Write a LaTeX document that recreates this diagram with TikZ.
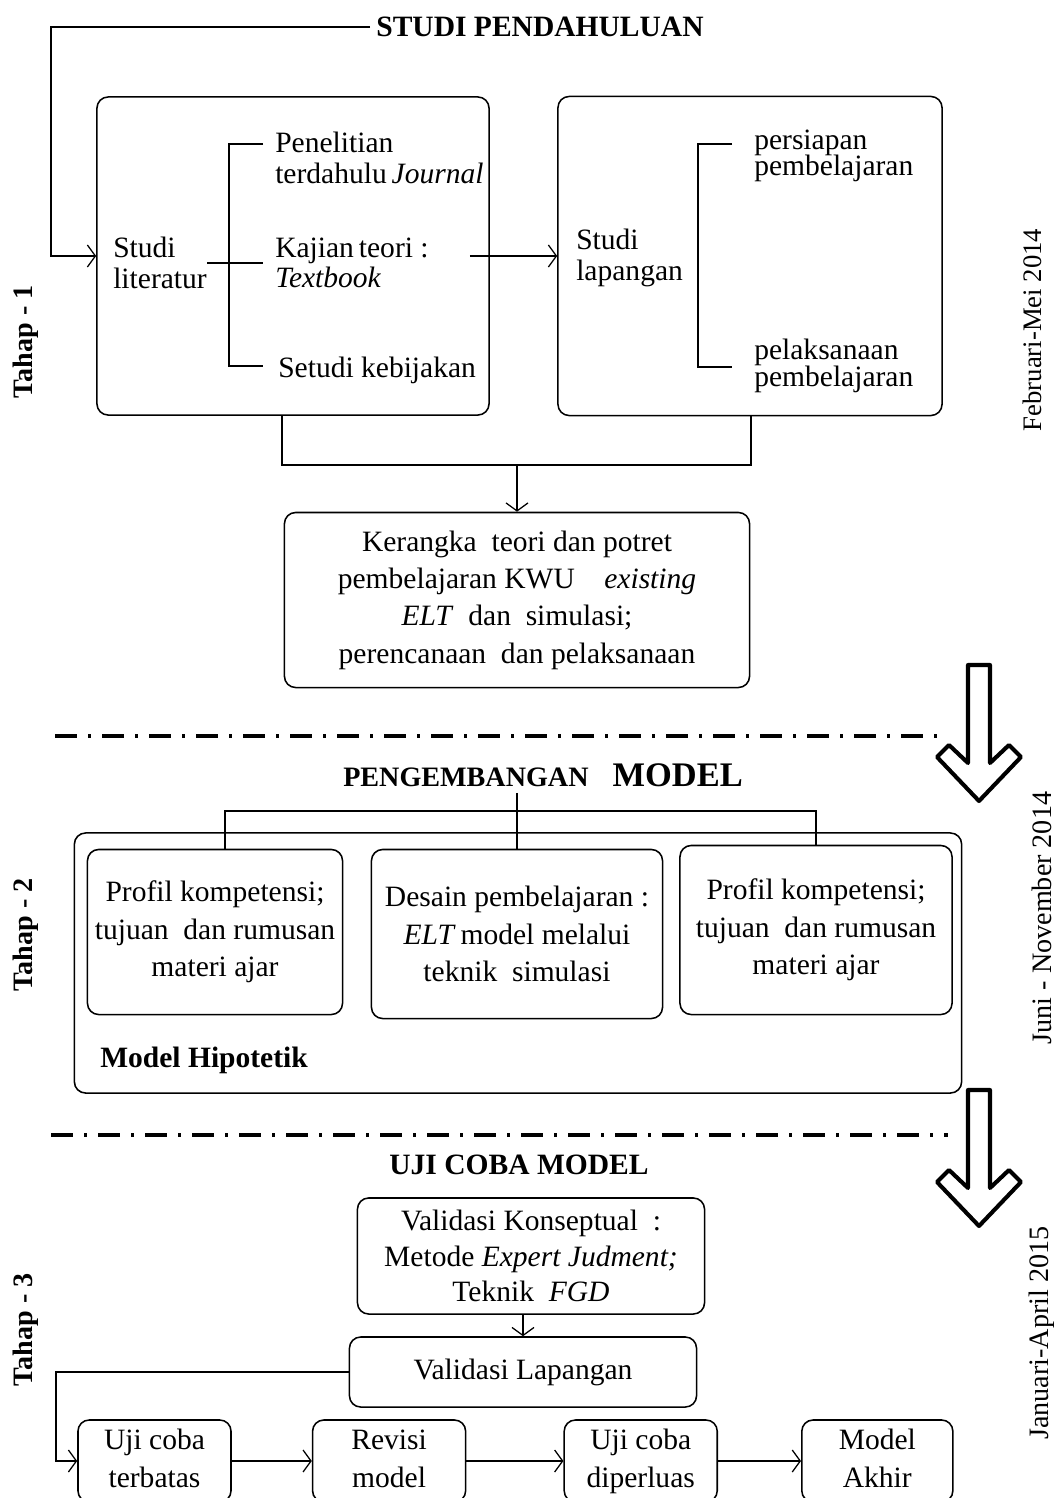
\documentclass[tikz,border=0pt]{standalone}
\usepackage{fontspec}
\setmainfont{Liberation Serif}
\usetikzlibrary{positioning, arrows.meta}

\begin{document}
\begin{tikzpicture}[
    x=0.025cm, y=-0.025cm,
    node distance=2cm,
    box/.style={draw, line width=1.1pt, rounded corners=0.28cm, align=center, inner sep=0pt,
        font=\fontsize{21}{26.5}\selectfont},
    ujibox/.style={box, minimum width=3.825cm, minimum height=2.05cm},
    lbl/.style={inner sep=0pt, anchor=west, align=left, font=\fontsize{21}{21.5}\selectfont},
    rapat/.style={font={\fontsize{21}{#1}\selectfont\setlength{\lineskiplimit}{-20pt}}},
    ttl/.style={inner sep=0.15cm, font=\bfseries\fontsize{21}{24}\selectfont},
    tahap/.style={rotate=90, inner sep=0pt, font=\bfseries\fontsize{20}{22}\selectfont},
    waktu/.style={rotate=90, inner sep=0pt, font=\fontsize{20}{22}\selectfont},
    garis/.style={line width=0.9pt},
    batas/.style={line width=2.9pt, dash pattern=on 0.55cm off 0.28cm on 0.075cm off 0.27cm},
    panah/.style={line width=2.9pt, line join=round},
    >={Straight Barb[length=0.2cm, width=0.55cm]}
]
\useasboundingbox (0,0) rectangle (1061,1498);
\clip (0,0) rectangle (1061,1498);

% --- Tahap 1: studi pendahuluan ---
\node[ttl] (t1) at (540,27) {STUDI PENDAHULUAN};
\node[box, minimum width=9.8cm, minimum height=7.95cm] (lit) at (293,256) {};
\node[box, minimum width=9.6cm, minimum height=7.975cm] (lap) at (750,256) {};
\coordinate (loop) at (51,27);
\draw[garis,->] (t1.west) -- (loop) |- (lit.west);

\node[lbl] (stlit) at (113,263) {Studi\\literatur};
\node[lbl] (pen) at (275,158) {Penelitian\\terdahulu\,\textit{Journal}};
\node[lbl] (kaj) at (275,263) {Kajian\,teori :\\\textit{Textbook}};
\node[lbl] (keb) at (278,370) {Setudi kebijakan};
\coordinate (b1t) at (263,144);
\coordinate (b1b) at (263,366);
\draw[garis] (b1t) -- ++(-34,0) |- (b1b);
\draw[garis] (stlit.east) -- (stlit.east -| b1t);
\draw[garis,->] ([xshift=-0.5cm]lit.east) -- (lap.west);

\node[lbl] (stlap) at (576,258) {Studi\\lapangan};
\node[lbl, rapat=19] (per) at (754,156) {persiapan\\pembelajaran};
\node[lbl, rapat=19] (pel) at (754,366) {pelaksanaan\\pembelajaran};
\coordinate (b2t) at (732,144);
\coordinate (b2b) at (732,367);
\draw[garis] (b2t) -- ++(-34,0) |- (b2b);

% gabungan ke kerangka teori
\node[box, minimum width=11.625cm, minimum height=4.375cm] (ker) at (517,600)
    {Kerangka\ \ teori dan potret\\pembelajaran KWU\quad\textit{existing}\\
     \textit{ELT}\ \ dan\ \ simulasi;\\perencanaan\ \ dan pelaksanaan};
\coordinate (j1) at (282,465);
\coordinate (j2) at (751,465);
\draw[garis] (lit.south -| j1) -- (j1) -- (j2) -- (lap.south -| j2);
\draw[garis,->] (ker.north |- j1) -- (ker.north);

% --- garis batas dan panah tahap ---
\draw[batas] (55,736) -- (948,736);
\draw[batas] (51,1135) -- (948,1135);
\foreach \dy in {0,425}
    \draw[panah, shift={(0,\dy)}] (968,665) -- (990,665) -- (990,763) -- (1009,745)
        -- (1021,757) -- (979,801) -- (937,757) -- (949,745) -- (968,763) -- cycle;

% --- Tahap 2: pengembangan model ---
\node[ttl] (t2) at (543,775) {\fontsize{20}{22}\selectfont PENGEMBANGAN\hspace{0.6cm}\fontsize{24.5}{26}\selectfont MODEL};
\node[box, minimum width=22.175cm, minimum height=6.5cm] (mh) at (518,963) {};
\node[lbl, font=\bfseries\fontsize{21}{24}\selectfont] (mhl) at (100,1060) {Model Hipotetik};
\node[box, minimum width=6.375cm, minimum height=4.125cm] (p1) at (215,932)
    {Profil kompetensi;\\tujuan\ \ dan rumusan\\materi ajar};
\node[box, minimum width=7.275cm, minimum height=4.225cm] (p2) at (517,934)
    {Desain pembelajaran :\\\textit{ELT}\,model melalui\\teknik\ \ simulasi};
\node[box, minimum width=6.8cm, minimum height=4.225cm] (p3) at (816,930)
    {Profil kompetensi;\\tujuan\ \ dan rumusan\\materi ajar};
\coordinate (hl) at (0,811);
\draw[garis] (p2.north |- t2.south) -- (p2.north);
\draw[garis] ([xshift=0.25cm]p1.north) -- ([xshift=0.25cm]p1.north |- hl) -- (p3.north |- hl) -- (p3.north);

% --- Tahap 3: uji coba model ---
\node[ttl] (t3) at (519,1165) {UJI COBA MODEL};
\node[box, minimum width=8.675cm, minimum height=2.9cm, font=\fontsize{21}{25}\selectfont] (v1) at (531,1256)
    {Validasi Konseptual\ \ :\\Metode \textit{Expert Judment;}\\Teknik\ \ \textit{FGD}};
\node[box, minimum width=8.675cm, minimum height=1.75cm] (v2) at (523,1372) {Validasi Lapangan};

\node[ujibox] (u1) at (154.5,1461) {\strut Uji coba\\terbatas\strut};
\node[ujibox, right=2cm of u1] (u2) {\strut Revisi\\model\strut};
\node[ujibox, right=2.425cm of u2] (u3) {\strut Uji coba\\diperluas\strut};
\node[ujibox, minimum width=3.775cm, right=2.075cm of u3] (u4) {\strut Model\\Akhir\strut};

\coordinate (vl) at (56,1372);
\draw[garis,->] (v1.south -| v2.north) -- (v2.north);
\draw[garis,->] (v2.west) -- (vl) |- (u1.west);
\draw[garis,->] (u1) -- (u2);
\draw[garis,->] (u2) -- (u3);
\draw[garis,->] (u3) -- (u4);

% --- label tahap dan waktu ---
\node[tahap] (th1) at (26,342) {Tahap - 1};
\node[tahap] (th2) at (26,935) {Tahap - 2};
\node[tahap] (th3) at (26,1330) {Tahap - 3};
\node[waktu, font=\fontsize{19}{21}\selectfont] (w1) at (1032,330) {Februari-Mei 2014};
\node[waktu] (w2) at (1042,918) {Juni - November 2014};
\node[waktu] (w3) at (1042,1333) {Januari-April 2015};

\end{tikzpicture}
\end{document}
